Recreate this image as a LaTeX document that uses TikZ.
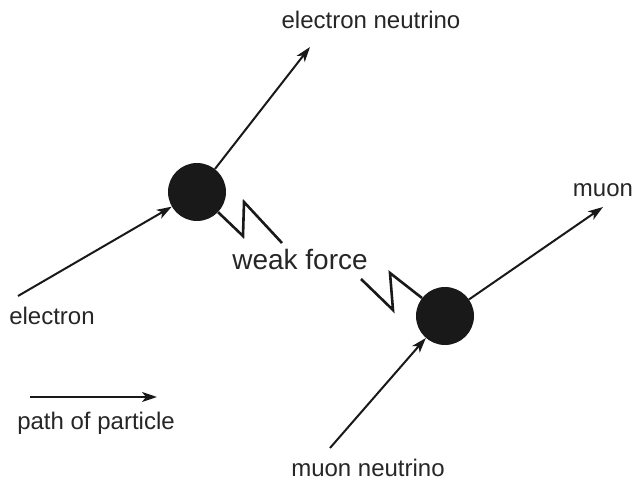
\documentclass[tikz,border=0pt]{standalone}
\usepackage{fontspec}
\setmainfont{Liberation Sans}
\usetikzlibrary{arrows.meta}
\begin{document}
\begin{tikzpicture}[x=1pt,y=-1pt,
  blob/.style={circle,fill=black!90,draw=none,minimum size=58pt,inner sep=0pt},
  path arrow/.style={line width=2pt,color=black!90,-{Stealth[length=15pt,width=10pt,inset=4pt]}},
  zig/.style={line width=2.6pt,color=black!90,line join=miter},
  lbl/.style={anchor=base,inner sep=0pt,text=black!85,font=\fontsize{24}{28}\selectfont},
  biglbl/.style={anchor=base,inner sep=0pt,text=black!85,font=\fontsize{28}{33}\selectfont}]
\useasboundingbox (0,0) rectangle (635,481);
\node[blob] (c1) at (197,192) {};
\node[blob] (c2) at (445,316) {};
\coordinate (es) at (18,296);
\coordinate (ne) at (310,47);
\coordinate (mu) at (603,207);
\coordinate (mns) at (330,448);
\coordinate (ls) at (30,397);
\coordinate (le) at (157,397);
\coordinate (za1) at (243,236);
\coordinate (za2) at (244,202);
\coordinate (za3) at (282,243);
\coordinate (zb1) at (361,279);
\coordinate (zb2) at (393,310);
\coordinate (zb3) at (390,273);
\draw[path arrow] (es) -- (c1);
\draw[path arrow] (c1) -- (ne);
\draw[path arrow] (c2) -- (mu);
\draw[path arrow] (mns) -- (c2);
\draw[path arrow] (ls) -- (le);
\draw[zig] (c1) -- (za1) -- (za2) -- (za3);
\draw[zig] (zb1) -- (zb2) -- (zb3) -- (c2);
\node[lbl] (tne) at (371,29) {electron neutrino};
\node[lbl] (tmu) at (603,197) {muon};
\node[lbl] (tel) at (52,324) {electron};
\node[biglbl] (twf) at (300,270) {weak force};
\node[lbl] (tmn) at (368,476) {muon neutrino};
\node[lbl] (tpp) at (96,429) {path of particle};
\end{tikzpicture}
\end{document}
